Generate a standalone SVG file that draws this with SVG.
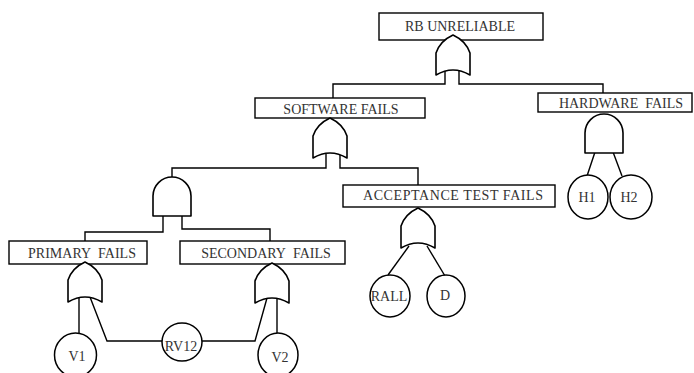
<svg xmlns="http://www.w3.org/2000/svg" xmlns:xlink="http://www.w3.org/1999/xlink" width="694" height="373" viewBox="0 0 694 373">
  <style>
    .box { fill: #fff; stroke: #000; stroke-width: 1.4; }
    .gate { fill: #fff; stroke: #000; stroke-width: 1.6; stroke-linejoin: round; }
    .ev { fill: #fff; stroke: #000; stroke-width: 1.5; }
    .wire { fill: none; stroke: #000; stroke-width: 1.4; }
    text { font-family: "Liberation Serif", "Times New Roman", serif; font-size: 14px; fill: #333; text-anchor: middle; }
  </style>
  <defs>
    <!-- OR gate, origin at the apex -->
    <path id="or" class="gate" d="M0,0 Q-13,6 -17,18 L-17,40 Q0,30 17,40 L17,18 Q13,6 0,0 Z"/>
    <!-- AND gate, origin at the top of the dome -->
    <path id="and" class="gate" d="M-19,39 L-19,19 A19,19 0 0 1 19,19 L19,39 Z"/>
  </defs>
  <rect width="694" height="373" fill="#fff"/>

  <g id="connectors">
    <polyline class="wire" points="445,71 445,84 333,84 333,98"/>
    <polyline class="wire" points="459,71 459,84 603,84 603,93"/>
    <polyline class="wire" points="326,154 326,168 172,168 172,177"/>
    <polyline class="wire" points="340,154 340,168 418,168 418,185"/>
    <polyline class="wire" points="163,216 163,232 85,232 85,241"/>
    <polyline class="wire" points="182,216 182,229 270,229 270,241"/>
    <line class="wire" x1="595" y1="152" x2="587" y2="176"/>
    <line class="wire" x1="613" y1="152" x2="622" y2="176"/>
    <line class="wire" x1="409" y1="246" x2="388" y2="275"/>
    <line class="wire" x1="427" y1="246" x2="445" y2="276"/>
    <line class="wire" x1="79" y1="297" x2="79" y2="333"/>
    <polyline class="wire" points="90,297 107,341 162,341"/>
    <line class="wire" x1="277" y1="298" x2="277" y2="333"/>
    <polyline class="wire" points="267,298 255,341 202,341"/>
  </g>

  <g id="rb-unreliable">
    <rect class="box" x="379" y="13" width="164" height="27"/>
    <text x="460" y="31">RB UNRELIABLE</text>
    <use xlink:href="#or" x="453" y="35"/>
  </g>

  <g id="software-fails">
    <rect class="box" x="255" y="98" width="170" height="20"/>
    <text x="341" y="114">SOFTWARE FAILS</text>
    <use xlink:href="#or" x="330" y="118"/>
  </g>

  <g id="hardware-fails">
    <rect class="box" x="538" y="93" width="154" height="19"/>
    <text x="621" y="108">HARDWARE&#160; FAILS</text>
    <use xlink:href="#and" x="604" y="114"/>
  </g>

  <g id="software-and">
    <use xlink:href="#and" x="172" y="177"/>
  </g>

  <g id="acceptance-test-fails">
    <rect class="box" x="343" y="185" width="212" height="22"/>
    <text x="453" y="200" textLength="180" lengthAdjust="spacing">ACCEPTANCE TEST FAILS</text>
    <use xlink:href="#or" x="418" y="208"/>
  </g>

  <g id="primary-fails">
    <rect class="box" x="9" y="241" width="138" height="23"/>
    <text x="82" y="258">PRIMARY&#160; FAILS</text>
    <use xlink:href="#or" x="85" y="262"/>
  </g>

  <g id="secondary-fails">
    <rect class="box" x="180" y="241" width="165" height="23"/>
    <text x="266" y="258">SECONDARY&#160; FAILS</text>
    <use xlink:href="#or" x="272" y="263"/>
  </g>

  <g id="h1">
    <ellipse class="ev" cx="588" cy="197" rx="20" ry="22"/>
    <text x="587" y="202">H1</text>
  </g>
  <g id="h2">
    <ellipse class="ev" cx="631" cy="197" rx="21" ry="22"/>
    <text x="629" y="202">H2</text>
  </g>
  <g id="rall">
    <ellipse class="ev" cx="390" cy="296" rx="20" ry="21"/>
    <text x="389" y="301">RALL</text>
  </g>
  <g id="d">
    <ellipse class="ev" cx="446" cy="296" rx="19" ry="21"/>
    <text x="445" y="300">D</text>
  </g>
  <g id="v1">
    <ellipse class="ev" cx="75.5" cy="355" rx="21" ry="22"/>
    <text x="77" y="361">V1</text>
  </g>
  <g id="rv12">
    <ellipse class="ev" cx="182" cy="342" rx="20" ry="19"/>
    <text x="181" y="351">RV12</text>
  </g>
  <g id="v2">
    <ellipse class="ev" cx="278" cy="355" rx="20" ry="22"/>
    <text x="280" y="362">V2</text>
  </g>
</svg>
